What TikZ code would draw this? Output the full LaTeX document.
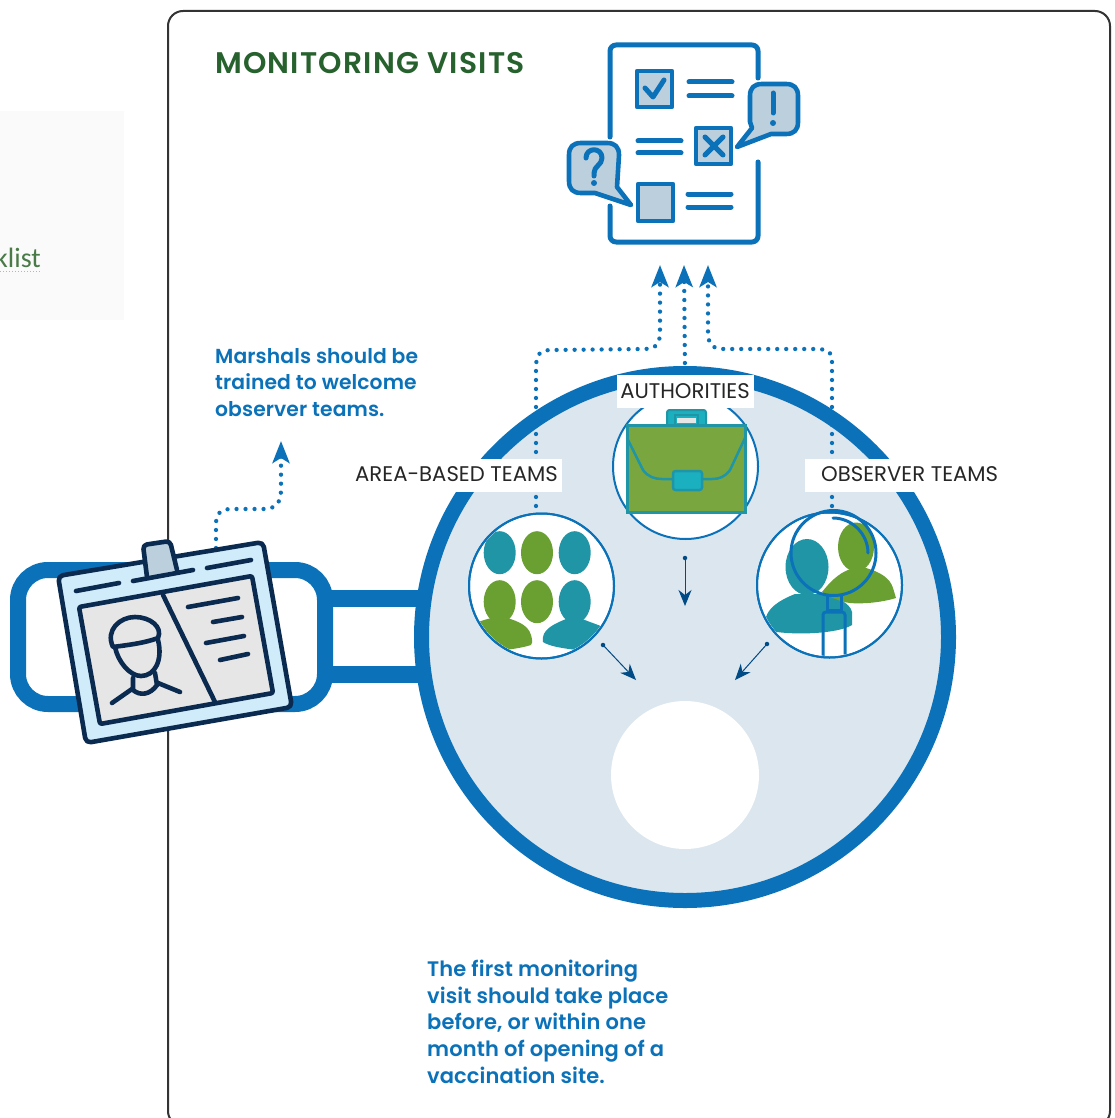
\documentclass[tikz,border=0pt]{standalone}
\usepackage{fontspec}
\setmainfont{Poppins}
\newfontfamily\semib{Poppins SemiBold}[LetterSpace=0.5]
\newfontfamily\titlef{Poppins SemiBold}[LetterSpace=4]
\newfontfamily\carl{Carlito}
\usetikzlibrary{arrows.meta}
\definecolor{mainblue}{HTML}{0B72B9}
\definecolor{darkarrow}{HTML}{004A86}
\definecolor{disc}{HTML}{DBE6EE}
\definecolor{teal1}{HTML}{1F95A6}
\definecolor{green1}{HTML}{6A9F32}
\definecolor{green2}{HTML}{7AA63F}
\definecolor{cyan1}{HTML}{1BB0C0}
\definecolor{pale}{HTML}{BCCFDD}
\definecolor{navy}{HTML}{0A2A50}
\definecolor{cardbg}{HTML}{D0EBF9}
\definecolor{grey1}{HTML}{E6E6E6}
\definecolor{titlegreen}{HTML}{26612E}
\definecolor{linkgreen}{HTML}{4A7A48}
\definecolor{linkdots}{HTML}{B5C95A}
\tikzset{
  smallcirc/.style={circle,draw=mainblue,line width=2pt,fill=white,minimum size=145pt,inner sep=0pt},
  dotline/.style={draw=mainblue,line width=4.3pt,line cap=round,dash pattern=on 0pt off 9pt,-{Stealth[length=22pt,width=17pt,inset=5pt,fill=mainblue]}},
  thinarrow/.style={draw=darkarrow,line width=1pt,-{Stealth[length=16pt,width=13pt,inset=5pt]}},
  startdot/.style={circle,fill=darkarrow,minimum size=4.5pt,inner sep=0pt},
  tag/.style={fill=white,text=black!85,font=\fontsize{21.2}{24}\selectfont,inner sep=0pt},
  bluetext/.style={text=mainblue,align=left,anchor=north west,inner sep=0pt,font=\semib\fontsize{20.3}{26.6}\selectfont},
  iconline/.style={draw=mainblue,line width=5pt,line cap=round,line join=round},
  iconbox/.style={draw=mainblue,line width=4.6pt,fill=pale,line join=round},
  navyline/.style={draw=navy,line width=4.6pt,line cap=round,line join=round},
}
\begin{document}
\begin{tikzpicture}[x=1pt,y=-1pt]
\clip (0,0) rectangle (1115,1118);
% pale panel
\fill[white] (0,0) rectangle (1115,1118);
\fill[black!2] (0,111) rectangle (124,320);
\node[anchor=base east,inner sep=0pt,text=linkgreen,font=\carl\fontsize{28}{30}\selectfont] (klist) at (41,267) {klist};
\draw[draw=linkdots,line width=1.6pt,dash pattern=on 1.4pt off 1.6pt] (0,271.5) -- (41,271.5);
% frame
\draw[draw=black!80,line width=2pt,rounded corners=15pt] (168,11) rectangle (1110,1126);
% title
\node[anchor=base west,inner sep=0pt,text=titlegreen,font=\titlef\fontsize{29.8}{30}\selectfont] (title) at (215,74) {MONITORING VISITS};
% lanyard
\draw[draw=mainblue,line width=16pt,rounded corners=30pt] (18,570) rectangle (325,704);
\fill[mainblue] (325,590) rectangle (430,607);
\fill[mainblue] (325,666) rectangle (430,683);
% disc
\node[circle,draw=mainblue,line width=15pt,fill=disc,minimum size=527pt,inner sep=0pt] (disc) at (685,637) {};
\node[circle,fill=white,minimum size=148pt,inner sep=0pt] (centre) at (685,775) {};
% coordinates for connectors
\coordinate (tipA) at (660,265);
\coordinate (tipB) at (684,265);
\coordinate (tipC) at (708,265);
\coordinate (tipM) at (281,441);
\coordinate (fromA) at (536,515);
\coordinate (fromB) at (685,372);
\coordinate (fromC) at (832,515);
\coordinate (fromM) at (216,548);
% dotted connectors
\draw[dotline] (fromA) -- (536,368) .. controls (536,354) and (540,350) .. (552,350) -- (644,349) .. controls (656,349) and (660,344) .. (660,332) -- (tipA);
\draw[dotline] (fromB) -- (tipB);
\draw[dotline] (fromC) -- (832,362) .. controls (832,352) and (828,349) .. (816,349) -- (724,349) .. controls (712,349) and (708,344) .. (708,332) -- (tipC);
\draw[dotline] (fromM) -- (216,524) .. controls (216,513) and (221,509) .. (232,509) -- (264,509) .. controls (276,509) and (281,502) .. (281,490) -- (tipM);
% small circles
\node[smallcirc] (authc) at (685.5,466.5) {};
\node[smallcirc] (teamsc) at (541.5,586) {};
\node[smallcirc] (obsc) at (829.5,585) {};
% briefcase
\draw[draw=teal1,line width=2pt,fill=cyan1,rounded corners=2.5pt] (667,410) rectangle (706,428);
\fill[grey1] (677,418) rectangle (696,423);
\draw[draw=teal1,line width=1.2pt] (675,415) rectangle (698,425);
\draw[draw=teal1,line width=3pt,fill=green2] (627,425) rectangle (745,512);
\draw[draw=teal1,line width=2.5pt] (627,438) -- (643,470) .. controls (648,477) and (655,479) .. (662,479) -- (712,479) .. controls (719,479) and (725,477) .. (730,470) -- (745,438);
\draw[draw=teal1,line width=2.5pt,fill=cyan1,rounded corners=2.5pt] (673,471) rectangle (702,490);
% team people
\begin{scope}
\clip (541.5,586) circle[radius=71];
\fill[teal1] (499.7,552.7) ellipse[x radius=16,y radius=21.5];
\fill[green1] (537,552.7) ellipse[x radius=16,y radius=21.5];
\fill[teal1] (574.7,552.7) ellipse[x radius=16,y radius=21.5];
\fill[green1] (499.7,601.7) ellipse[x radius=16,y radius=21.5];
\fill[green1] (537,601.7) ellipse[x radius=16,y radius=21.5];
\fill[teal1] (574.7,601.7) ellipse[x radius=16,y radius=21.5];
\fill[green1] (470,625) .. controls (480,621) and (490,618) .. (500,616) .. controls (515,620) and (528,624) .. (531,635) .. controls (533,642) and (532,644) .. (531,645) .. controls (515,650) and (490,652) .. (470,650) -- cycle;
\fill[teal1] (543,642) .. controls (541,630) and (552,624) .. (574,616) .. controls (585,620) and (595,624) .. (612,630) -- (612,655) .. controls (590,650) and (555,650) .. (543,642) -- cycle;
\end{scope}
% observer people
\begin{scope}
\clip (829.5,585) circle[radius=71];
\fill[teal1] (765,622) .. controls (766,608) and (780,600) .. (795,594) -- (823,594) .. controls (838,598) and (850,603) .. (852,612) -- (852,625) .. controls (838,634) and (790,636) .. (766,630) -- cycle;
\fill[teal1] (807,567) ellipse[x radius=21.5,y radius=28];
\fill[green1] (856,547) ellipse[x radius=18,y radius=24.5];
\fill[green1] (822,592) .. controls (830,582) and (838,574) .. (848,570) -- (866,568) .. controls (880,572) and (890,578) .. (893,588) -- (896,598) .. controls (880,603) and (860,604) .. (850,603) .. controls (840,602) and (830,597) .. (822,592) -- cycle;
\draw[draw=mainblue,line width=3pt,line join=round] (827,596) -- (827,610) -- (841,610) -- (841,596);
\draw[draw=mainblue,line width=3pt,rounded corners=3pt] (823,660) -- (823,612) -- (845,612) -- (845,660);
\end{scope}
\draw[draw=mainblue,line width=3pt] (833.5,553) circle[radius=42.5];
\draw[draw=mainblue,line width=3pt,line cap=round] (833,518) .. controls (852,518) and (868,534) .. (868,553);
\node[smallcirc,fill=none] (obsrim) at (829.5,585) {};
\node[smallcirc,fill=none] (teamsrim) at (541.5,586) {};
% labels
\fill[white] (617,375) rectangle (754,408);
\fill[white] (350,459) rectangle (562,492);
\fill[white] (805,459) rectangle (1005,492);
\node[tag] (lauth) at (685,391) {AUTHORITIES};
\node[tag,anchor=east] (lteams) at (558,474.5) {AREA-BASED TEAMS};
\node[tag,anchor=west] (lobs) at (821,474.5) {OBSERVER TEAMS};
% thin arrows
\node[startdot] (a1) at (685,558) {};
\node[startdot] (a2) at (603,645) {};
\node[startdot] (a3) at (767,644) {};
\coordinate (centreA) at (685,606);
\coordinate (centreB) at (636,680);
\coordinate (centreC) at (735,680);
\draw[thinarrow] (a1.center) -- (centreA);
\draw[thinarrow] (a2.center) -- (centreB);
\draw[thinarrow] (a3.center) -- (centreC);
% checklist icon
\draw[iconline,rounded corners=6pt] (610,137) -- (610,45) -- (758,45) -- (758,78);
\draw[iconline,rounded corners=6pt] (610,206) -- (610,242) -- (758,242) -- (758,162);
\draw[iconbox] (637,71) rectangle (672,107);
\draw[iconline] (645,88) -- (653,97) -- (664,80);
\draw[iconline] (689,82) -- (732,82);
\draw[iconline] (689,96) -- (732,96);
\draw[iconbox] (696,128) rectangle (731,164);
\draw[iconline] (705,137) -- (723,155);
\draw[iconline] (723,137) -- (705,155);
\draw[iconline] (638,141) -- (681,141);
\draw[iconline] (638,153) -- (681,153);
\draw[iconbox] (638,184) rectangle (673,221);
\draw[iconline] (688,194) -- (731,194);
\draw[iconline] (688,207) -- (731,207);
% right bubble
\draw[iconbox] (762,84) -- (786,84) .. controls (794,84) and (798,88) .. (798,96) -- (798,122) .. controls (798,130) and (794,134) .. (786,134) -- (771,134) -- (737,147) -- (752,128) -- (750,122) -- (750,96) .. controls (750,88) and (754,84) .. (762,84) -- cycle;
\draw[iconline] (773,93) -- (773,113);
\fill[mainblue] (773,123) circle[radius=3];
% left bubble
\draw[iconbox] (581,143) -- (607,143) .. controls (615,143) and (619,147) .. (619,155) -- (617,187) -- (631,205) -- (595,193) -- (581,193) .. controls (573,193) and (569,189) .. (569,181) -- (569,155) .. controls (569,147) and (573,143) .. (581,143) -- cycle;
\draw[iconline] (586,158) .. controls (586,147) and (602,147) .. (602,158) .. controls (602,165) and (594,166) .. (594,173) -- (594,176);
\fill[mainblue] (594,183) circle[radius=3];
% badge
\draw[navyline,fill=cardbg,rounded corners=5pt] (58,576) -- (263,542) -- (292,707) -- (86,743) -- cycle;
\draw[navyline,fill=pale,rounded corners=4pt] (147,577) -- (143,545) -- (170,541) -- (177,570);
\draw[navyline] (76,591) -- (119,583);
\draw[navyline] (133,581) -- (193,570);
\draw[navyline] (207,568) -- (251,560);
\draw[navyline,fill=grey1,rounded corners=2pt] (79,607) -- (252,576) -- (273,693) -- (100,724) -- cycle;
\draw[navyline] (163,595) -- (215,702);
\draw[navyline] (188,607) -- (238,598);
\draw[navyline] (213,622) -- (242,617);
\draw[navyline] (206,643) -- (244,636);
\draw[navyline] (220,660) -- (248,654);
\draw[navyline] (113,647) .. controls (105,630) and (120,617) .. (135,617) .. controls (150,617) and (163,627) .. (158,638) .. controls (145,643) and (128,645) .. (113,647) -- cycle;
\draw[navyline] (115,647) .. controls (118,662) and (130,676) .. (141,676) .. controls (155,676) and (163,660) .. (158,640);
\draw[navyline] (133,678) -- (133,690) .. controls (140,696) and (150,695) .. (157,685) -- (155,673);
\draw[navyline] (132,689) -- (112,703);
\draw[navyline] (158,683) -- (180,692);
% texts
\node[bluetext] (tm) at (215,348) {Marshals should be\\trained to welcome\\observer teams.};
\node[bluetext,font=\semib\fontsize{21}{26.6}\selectfont] (tf) at (427,960) {The first monitoring\\visit should take place\\before, or within one\\month of opening of a\\vaccination site.};
\end{tikzpicture}
\end{document}
